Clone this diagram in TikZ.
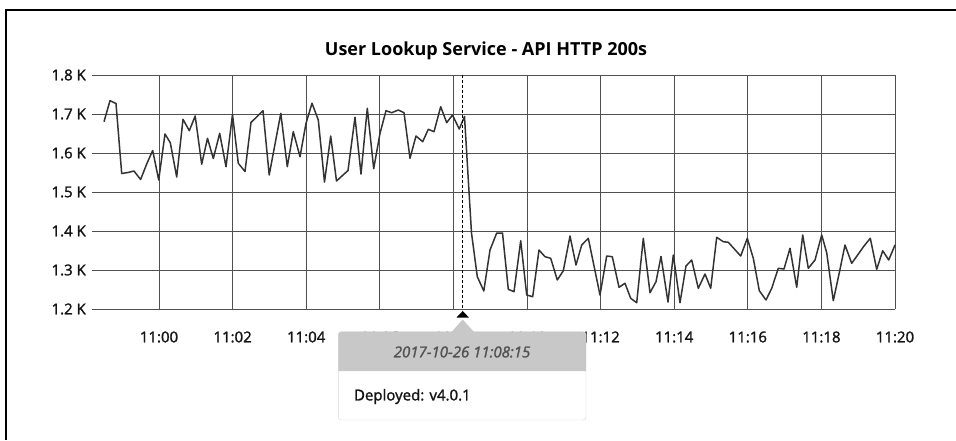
\documentclass[tikz,border=0pt]{standalone}
\usepackage{fontspec}
\setmainfont{Open Sans}
\newfontfamily\chartfont[FakeBold=1.6]{Open Sans}
\usepackage{tikz}
\usetikzlibrary{positioning}
\definecolor{gridgray}{HTML}{505050}
\definecolor{tipgray}{HTML}{C8C8C8}
\definecolor{tipedge}{HTML}{D6D6D6}

\begin{document}
\begin{tikzpicture}[x=1pt, y=-1pt,
  gridline/.style={draw=gridgray, line width=1pt},
  trace/.style={draw=black!80, line width=1.5pt, line join=round},
  ticklabel/.style={font=\chartfont\fontsize{15}{18}\selectfont, text=black!92, inner sep=0pt}]
\useasboundingbox (0,0) rectangle (956,440);
% Frame
\draw[line width=1.2pt] (956,10) -- (6,10) -- (6,440);

% Title
\node[font=\fontsize{18}{22}\selectfont\bfseries] (title) at (486,50.5) {User Lookup Service - API HTTP 200s};

% Grid and axis labels
\foreach \y in {75,114,...,309} \draw[gridline] (92,\y) -- (895,\y);
\foreach \k in {0,...,10} \draw[gridline] ({159+73.6*\k},75) -- ({159+73.6*\k},309);
\foreach \v [count=\i from 0] in {1.8,1.7,1.6,1.5,1.4,1.3,1.2}
  \node[ticklabel, anchor=east] (ylab\i) at (86,{75+39*\i}) {\v\ K};
\foreach \m [count=\i from 0] in {00,02,04,06,08,10,12,14,16,18,20}
  \node[ticklabel] (xlab\m) at ({159+73.6*\i},337) {11:\m};

% Request count
\draw[trace] plot coordinates {(104,121.7) (110,100.7) (116,103.5) (121.7,173.5) (128,172.5) (134,171)
  (140.6,179.5) (146.7,164) (152.7,150.5) (158.7,180) (165,134) (170.3,142.7) (176.7,177) (183,119.3)
  (189.3,130.7) (195.2,116) (201.7,164.2) (207.5,138.3) (213.3,158.5) (219.7,133.3) (226,166.7)
  (232.5,114.5) (238.3,163.3) (245,171.5) (251,122.5) (263,110.7) (269.2,175) (280.8,113.3)
  (287.3,166.7) (293.3,131.7) (300,156.7) (306,123.3) (312,103.3) (318.3,120) (324.5,182) (330.7,136)
  (336.5,181) (348,170.5) (355,117.3) (361,174) (367.3,108.3) (373.7,168.7) (380,133.3) (386,110.7)
  (391.7,112.7) (398.3,110) (404,112.7) (410,158.3) (416,136) (422.7,141.7) (428.3,129.3) (434,131.7)
  (440.7,106.7) (446.7,122.7) (452.5,115) (459.2,129) (464.5,116.5) (471.5,233) (477.3,276.7)
  (483.8,291) (490,250) (496.7,233) (502.5,233) (508.3,289.3) (514,291.7) (520.7,240.7) (526.7,295)
  (532.7,296.7) (539,250) (545,256.7) (550.7,258.3) (557.3,280) (563.3,270.7) (570,236) (576,265)
  (581.7,245) (588.3,238.3) (600,295) (606.7,256) (612.3,256.7) (619,287.3) (625,283.3) (630.7,298.3)
  (636.7,302.7) (643.3,238.3) (650,292.7) (656,281.7) (661,256.5) (668,302) (673.3,255) (680,302.7)
  (686,266) (691.7,260) (698.3,288.3) (705,274) (710.7,288.3) (716.7,237.3) (723.3,241.7) (728.3,242.3)
  (740.7,256) (747.3,238.3) (753.3,258.3) (759.3,290.7) (766,300) (771.7,288.3) (778.3,268.3)
  (784,269) (790,248.3) (796.7,287.3) (802.7,235) (808.3,268.3) (815,260) (821.7,235) (826.7,252.7)
  (833.3,300.7) (839.3,272.7) (845,245) (851.7,263.3) (858,254.5) (864,246) (870.3,238.3)
  (876.7,269.3) (882.7,250.7) (888.7,260) (895,245)};

% Deployment marker
\coordinate (deploytop) at (462.7,75);
\coordinate (deploy) at (462.7,310);
\draw[dash pattern=on 3pt off 2pt, line width=1pt] (deploytop) -- (deploy);
\fill (456.5,317.5) -- (462.7,311) -- (468.9,317.5) -- cycle;

% Tooltip
\draw[draw=tipedge, fill=white, rounded corners=3pt] (338.3,331.7) rectangle (586,420);
\fill[tipgray] (338.3,371) {[rounded corners=3pt] -- (338.3,331.7) -- (586,331.7)} -- (586,371) -- cycle;
\fill[tipgray] (451.5,332) -- (462.7,319.5) -- (474,332) -- cycle;
\node[font=\chartfont\fontsize{15}{18}\selectfont\itshape, text=black!68] (stamp) at (462,352) {2017-10-26 11:08:15};
\node[font=\chartfont\fontsize{15}{18}\selectfont, text=black!92, anchor=west] (deployed) at (350.5,396.5) {Deployed: v4.0.1};
\end{tikzpicture}
\end{document}
